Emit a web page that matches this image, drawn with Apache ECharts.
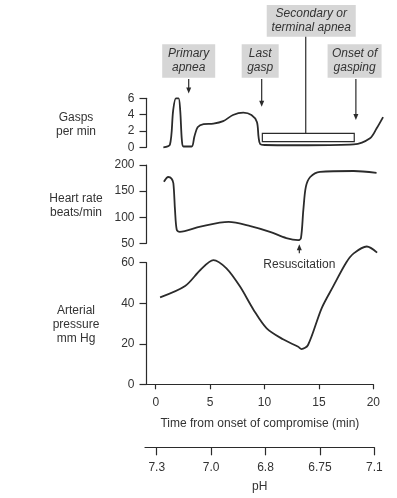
<!DOCTYPE html>
<html>
<head>
<meta charset="utf-8">
<script src="https://cdn.jsdelivr.net/npm/echarts@6/dist/echarts.min.js"></script>
<style>
html,body{margin:0;padding:0;background:#fff;}
#main{width:397px;height:498px;}
</style>
</head>
<body>
<div id="main"></div>
<script>
// time (min) -> value
var gasps = [[0.7,0],[1.3,0.3],[1.6,4.5],[1.85,6],[2.1,6],[2.25,4.5],[2.4,0.9],[2.55,0.1],[3.3,0.1],[3.55,1.3],
  [3.85,2.45],[4.4,2.85],[5.3,2.9],[6.2,3.2],[7.1,3.95],[8.05,4.24],[8.8,3.95],[9.3,3.1],[9.45,1.3],[9.6,0.4],
  [10.05,0.28],[14,0.25],[18.2,0.35],[19.7,1.1],[20.3,2.3],[20.9,3.7]];
var heartRate = [[0.75,168],[1.15,177],[1.45,174],[1.62,165],[1.77,114],[1.93,76],[2.2,72],[4.1,82],[6.7,91],
  [8.7,83],[10.5,72],[12,60],[13.1,56],[13.35,60],[13.57,114],[13.8,158],[14.2,177],[15.1,187],[18.2,188.5],[20.3,185]];
var pressure = [[0.4,42.9],[2.7,48.5],[4.1,56.4],[5.3,61.3],[6.5,57.2],[7.75,48.2],[9,36.7],[10.2,27.6],[11.7,22.2],
  [13.1,18.5],[13.4,17.4],[14,19.4],[15.25,37.5],[16.3,48.2],[17.5,60],[18.2,64.6],[19.4,68],[20.35,65]];
var timeTicks = [0, 5, 10, 15, 20];
var phLabels = ['7.3', '7.0', '6.8', '6.75', '7.1'];
var panelNames = ['Gasps\nper min', 'Heart rate\nbeats/min', 'Arterial\npressure\nmm Hg'];

var font = "'Liberation Sans', Arial, sans-serif";
var ink = '#2b2b2b';
var myChart = echarts.init(document.getElementById('main'));

// curves run a bit past 20 min, so the data grids reach further right than the drawn time axis
var L = 146.5, R = 7.4, XMAX = 21.5;

function yAxisOf(grid, min, max, interval) {
  return {
    gridIndex: grid, type: 'value', min: min, max: max, interval: interval,
    axisLine: {show: true, onZero: false, lineStyle: {color: ink, width: 1.2}},
    axisTick: {length: 7, lineStyle: {color: ink, width: 1.2}},
    axisLabel: {margin: 12, color: '#333', fontSize: 12, fontFamily: font},
    splitLine: {show: false}
  };
}
function hiddenX(grid) {
  return {gridIndex: grid, type: 'value', min: -0.85, max: XMAX, show: false};
}
function lineSeries(i, data) {
  return {
    type: 'line', xAxisIndex: i, yAxisIndex: i, data: data, symbol: 'none',
    smooth: 0.3, clip: false, silent: true,
    lineStyle: {color: ink, width: 1.8}
  };
}

option = {
  animation: false,
  backgroundColor: '#fff',
  grid: [
    {left: L, right: R, top: 98.3, height: 49},
    {left: L, right: R, top: 165, height: 78.3},
    {left: L, right: R, top: 262.7, height: 121.6},
    {left: L, right: 23.7, top: 374.3, height: 10},
    {left: 145, right: 22.7, top: 437.3, height: 10}
  ],
  xAxis: [
    hiddenX(0), hiddenX(1), hiddenX(2),
    {
      gridIndex: 3, type: 'value', min: -0.85, max: 20,
      name: 'Time from onset of compromise (min)', nameLocation: 'middle', nameGap: 33,
      nameTextStyle: {color: '#333', fontSize: 12, fontFamily: font},
      axisLine: {lineStyle: {color: ink, width: 1.2}},
      axisTick: {length: 5, customValues: timeTicks, lineStyle: {color: ink, width: 1.2}},
      axisLabel: {margin: 12, customValues: timeTicks, color: '#333', fontSize: 12, fontFamily: font},
      splitLine: {show: false}
    },
    {
      gridIndex: 4, type: 'value', min: -1.08, max: 20,
      name: 'pH', nameLocation: 'middle', nameGap: 33,
      nameTextStyle: {color: '#333', fontSize: 12, fontFamily: font},
      axisLine: {lineStyle: {color: ink, width: 1.2}},
      axisTick: {length: 8, customValues: timeTicks, lineStyle: {color: ink, width: 1.2}},
      axisLabel: {
        margin: 14, customValues: timeTicks, color: '#333', fontSize: 12, fontFamily: font,
        formatter: function (v) { return phLabels[timeTicks.indexOf(v)]; }
      },
      splitLine: {show: false}
    }
  ],
  yAxis: [
    yAxisOf(0, 0, 6, 2),
    yAxisOf(1, 50, 200, 50),
    yAxisOf(2, 0, 60, 20),
    {gridIndex: 3, type: 'value', show: false},
    {gridIndex: 4, type: 'value', show: false}
  ],
  series: [
    lineSeries(0, gasps),
    lineSeries(1, heartRate),
    lineSeries(2, pressure)
  ]
};
myChart.setOption(option);

// annotations, anchored to data coordinates
function toPx(grid, x, y) { return myChart.convertToPixel({gridIndex: grid}, [x, y]); }
var txt = {fill: '#333', fontSize: 12, fontFamily: font, align: 'center', verticalAlign: 'middle', lineHeight: 14};
var g = [];

function labelBox(cx, top, w, h, text) {
  g.push({type: 'rect', shape: {x: cx - w / 2, y: top, width: w, height: h}, style: {fill: '#d6d6d6'}});
  g.push({type: 'text', x: cx, y: top + h / 2, style: Object.assign({}, txt, {text: text, fontStyle: 'italic'})});
}
function arrowDown(x, y0, y1) {
  g.push({type: 'line', shape: {x1: x, y1: y0, x2: x, y2: y1 - 5}, style: {stroke: ink, lineWidth: 1.2}});
  g.push({type: 'polygon', shape: {points: [[x - 2.5, y1 - 6], [x + 2.5, y1 - 6], [x, y1]]}, style: {fill: ink}});
}

var pA = toPx(0, 3.03, 6.6);
labelBox(pA[0], 44.3, 53, 33.4, 'Primary\napnea');
arrowDown(pA[0], 79, pA[1]);

var lG = toPx(0, 9.74, 4.97);
labelBox(lG[0] - 1.5, 44.3, 37, 33.4, 'Last\ngasp');
arrowDown(lG[0], 79, lG[1]);

var oG = toPx(0, 18.4, 3.34);
labelBox(oG[0] - 1.3, 44.3, 54, 33.4, 'Onset of\ngasping');
arrowDown(oG[0], 79, oG[1]);

var b0 = toPx(0, 9.8, 1.71), b1 = toPx(0, 18.25, 0.69), sx = toPx(0, 13.79, 0)[0];
labelBox(sx + 5.5, 5, 89, 31.7, 'Secondary or\nterminal apnea');
g.push({type: 'line', shape: {x1: sx, y1: 36.7, x2: sx, y2: b0[1]}, style: {stroke: ink, lineWidth: 1.2}});
g.push({type: 'rect', shape: {x: b0[0], y: b0[1], width: b1[0] - b0[0], height: b1[1] - b0[1]},
  style: {fill: 'none', stroke: ink, lineWidth: 1.2}});

var rT = toPx(1, 13.2, 48), rB = toPx(1, 13.2, 31);
g.push({type: 'line', shape: {x1: rT[0], y1: rB[1], x2: rT[0], y2: rT[1] + 5}, style: {stroke: ink, lineWidth: 1.2}});
g.push({type: 'polygon', shape: {points: [[rT[0] - 2.5, rT[1] + 6], [rT[0] + 2.5, rT[1] + 6], [rT[0], rT[1]]]}, style: {fill: ink}});
g.push({type: 'text', x: rT[0], y: 265, style: Object.assign({}, txt, {text: 'Resuscitation'})});

// panel titles
var mids = [toPx(0, 0, 3)[1], toPx(1, 0, 125)[1], toPx(2, 0, 30)[1]];
panelNames.forEach(function (n, i) {
  g.push({type: 'text', x: 76, y: mids[i] + 1.5, style: Object.assign({}, txt, {text: n})});
});

myChart.setOption({graphic: g});
</script>
</body>
</html>
